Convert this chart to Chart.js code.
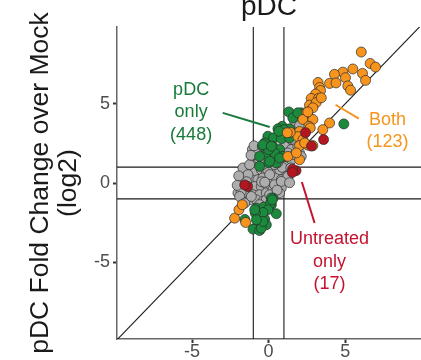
<!DOCTYPE html>
<html>
<head>
<meta charset="utf-8">
<script src="https://cdn.jsdelivr.net/npm/chart.js@4"></script>
<style>
  html, body { margin: 0; padding: 0; background: #fff; }
  #wrap { width: 421px; height: 360px; }
</style>
</head>
<body>
<div id="wrap"><canvas id="chart" width="421" height="360"></canvas></div>
<script>
// log2 fold change over mock: x = untreated, y = pDC
const xRange = [-9.9, 9.95];
const yRange = [-9.85, 9.85];
const xTicks = [-5, 0, 5];
const yTicks = [-5, 0, 5];
const cutoffs = [-1, 1];

// not significant
const grayPts = [
  [-0.70,1.90],[-1.02,1.47],[-0.70,1.27],[-1.52,0.89],[-1.24,0.63],[-0.91,0.73],[-0.48,0.84],[-0.15,0.63],
  [0.18,0.84],[0.50,0.73],[0.83,0.95],[1.15,0.63],[1.26,1.16],[1.04,1.68],[0.93,2.11],[-1.68,0.21],
  [-1.13,0.21],[-0.70,0.21],[-0.37,0.32],[0.07,0.21],[0.50,0.32],[0.83,0.21],[1.26,0.32],[-1.79,-0.22],
  [-1.35,-0.32],[-0.91,-0.22],[-0.48,-0.22],[-0.05,-0.22],[0.39,-0.22],[0.83,-0.32],[-2.00,-0.63],[-1.56,-0.74],
  [-1.02,-0.74],[-0.59,-0.74],[-0.15,-0.63],[0.72,-0.63],[-1.68,-1.16],[-1.24,-1.06],[-0.80,-1.06],[-0.37,-1.16],
  [-1.68,0.95],[-1.35,0.53],[-1.79,-0.53],[-1.89,-0.85],[-1.56,-1.27],[-1.13,-0.85],[-0.80,1.90],[-0.59,1.47],
  [0.72,0.84],[1.04,1.05],[1.26,0.42],[0.28,-0.42],[-0.15,-1.06],[-0.59,-1.37],[0.39,-0.11],[0.83,0.10],
  [-1.06,2.11],[1.58,2.32],[1.48,2.74],[1.15,2.63],[0.89,0.99],[-0.05,0.84],[1.70,3.90],[2.02,3.63],
  [1.81,3.17],[1.65,2.74],[-0.70,1.79],[-0.26,1.65],[1.04,2.32],[1.48,2.11],[2.02,1.90],[1.26,1.90],
  [1.11,3.37],[1.91,2.32],[2.13,1.68],[-0.80,2.00],[0.07,0.53],[-0.39,1.16],[0.39,1.16],[-1.24,1.16],
  [0.07,-0.74],[-1.44,0.08],[-0.46,0.08],[1.37,0.02],[0.59,1.28],[1.50,1.47],[1.70,1.79],[-1.15,1.75],
  [-0.95,2.35],[-1.95,0.45],[-2.05,-0.15],[0.55,-0.45],[1.45,0.95],[-0.25,0.05]
];
// pDC only
const greenPts = [
  [1.32,4.49],[2.13,4.43],[2.56,4.32],[1.58,4.11],[0.89,3.58],[0.61,3.42],[-0.05,2.95],[0.33,2.85],
  [0.89,2.95],[1.37,3.42],[1.00,3.37],[0.83,2.79],[1.37,2.85],[-0.41,2.32],[0.28,2.32],[0.72,2.11],
  [-0.05,1.79],[0.39,1.90],[-0.59,1.68],[0.00,1.27],[0.50,1.27],[-0.59,1.05],[4.91,3.73],[-0.26,2.53],
  [0.00,2.11],[0.93,1.68],[1.91,4.43],[-0.37,2.42],[0.18,2.32],[0.72,1.58],[0.28,-0.95],[-0.80,-1.58],
  [-0.31,-1.52],[0.18,-1.37],[0.50,-1.94],[-0.70,-2.11],[-0.26,-2.28],[-0.52,-2.53],[-0.15,-2.64],[-1.02,-2.91],
  [-0.59,-3.00],[0.13,-1.27],[-0.05,-1.69],[-0.37,-1.86],[-0.87,-1.90],[0.18,-0.95],[-0.48,-2.85],[-0.37,-2.43],
  [-1.55,-2.30],[-0.80,-2.32],[-0.91,-1.69],[0.24,-1.06],[0.07,1.37],[0.67,3.27]
];
// both
const orangePts = [
  [6.05,8.27],[6.63,7.55],[6.98,7.32],[5.50,7.20],[4.85,7.00],[4.30,6.86],[3.98,6.29],[4.40,6.32],
  [5.02,6.65],[6.13,6.92],[6.33,6.48],[5.17,6.13],[5.35,5.86],[3.23,6.35],[3.33,6.03],[3.39,5.84],
  [3.07,5.62],[2.78,5.34],[3.26,5.34],[2.67,4.92],[3.11,5.08],[2.89,4.75],[2.48,4.45],[2.24,4.01],
  [2.89,4.01],[2.63,3.58],[3.98,3.79],[3.54,3.37],[2.02,3.25],[1.91,2.93],[2.24,2.74],[2.56,2.39],
  [2.02,2.36],[2.89,2.36],[1.41,3.20],[1.26,1.68],[2.02,1.47],[1.81,1.90],[2.72,3.48],[3.44,5.38],
  [2.56,4.49],[-2.22,-2.22],[-1.94,-1.69],[-1.72,-1.37],[-1.50,-2.49],[1.22,3.17],[2.35,2.53]
];
// untreated only
const redPts = [
  [3.59,2.74],[2.41,3.18],[2.80,2.33],[1.79,0.78],[1.56,0.87],[-1.37,-0.22],[-1.56,-0.12],[1.55,0.67]
];

const notes = [
  { lines: ["pDC", "only", "(448)"], color: "#17793a", x: -5.06, y: 4.48, from: [-3.0, 4.43], to: [0.07, 3.54] },
  { lines: ["Both", "(123)"], color: "#f7941d", x: 7.76, y: 3.28, from: [4.37, 4.94], to: [5.89, 4.07] },
  { lines: ["Untreated", "only", "(17)"], color: "#c4122f", x: 3.98, y: -4.98, from: [2.17, 0.06], to: [3.0, -2.53] }
];

const FONT = "'Liberation Sans', Arial, Helvetica, sans-serif";

const toXY = pts => pts.map(([x, y]) => ({ x, y }));

function dots(pts, fill, order) {
  return {
    data: toXY(pts), backgroundColor: fill, borderColor: "#2b2b2b", borderWidth: 0.7,
    pointRadius: 5, pointHoverRadius: 5, order
  };
}
function refLine(pts) {
  return {
    data: toXY(pts), showLine: true, borderColor: "#1a1a1a", borderWidth: 1.1,
    pointRadius: 0, fill: false, order: 5
  };
}

const datasets = [
  dots(redPts, "#b3161f", 1),
  dots(orangePts, "#f7941d", 2),
  dots(greenPts, "#1b8a3c", 3),
  dots(grayPts, "#adadad", 4),
  refLine([[xRange[0], xRange[0]], [xRange[1], xRange[1]]])
];
cutoffs.forEach(c => {
  datasets.push(refLine([[c, yRange[0]], [c, yRange[1]]]));
  datasets.push(refLine([[xRange[0], c], [xRange[1], c]]));
});

const notesPlugin = {
  id: "notes",
  afterDatasetsDraw(chart) {
    const { ctx, scales: { x, y } } = chart;
    const lh = 22.5;
    ctx.save();
    notes.forEach(n => {
      ctx.strokeStyle = n.color;
      ctx.lineWidth = 2;
      ctx.beginPath();
      ctx.moveTo(x.getPixelForValue(n.from[0]), y.getPixelForValue(n.from[1]));
      ctx.lineTo(x.getPixelForValue(n.to[0]), y.getPixelForValue(n.to[1]));
      ctx.stroke();
      ctx.fillStyle = n.color;
      ctx.font = "18px " + FONT;
      ctx.textAlign = "center";
      ctx.textBaseline = "middle";
      const cx = x.getPixelForValue(n.x);
      const top = y.getPixelForValue(n.y) - (n.lines.length - 1) * lh / 2;
      n.lines.forEach((t, i) => ctx.fillText(t, cx, top + i * lh));
    });
    ctx.restore();
  }
};

const axisTicks = { color: "#4d4d4d", padding: 0, font: { family: FONT, size: 18, lineHeight: 1 } };
const axisGrid = { drawOnChartArea: false, drawTicks: true, tickLength: 4, tickWidth: 2, tickColor: "#333" };
const axisBorder = { color: "#666", width: 1.5 };

new Chart(document.getElementById("chart"), {
  type: "scatter",
  data: { datasets },
  options: {
    responsive: false,
    animation: false,
    devicePixelRatio: 1,
    layout: { padding: 0, autoPadding: false },
    plugins: {
      legend: { display: false },
      tooltip: { enabled: false },
      title: {
        display: true, text: "pDC", fullSize: false, color: "#1a1a1a",
        font: { family: FONT, size: 28, weight: "normal", lineHeight: 0.5 },
        padding: { top: 0, bottom: 13 }
      }
    },
    scales: {
      x: {
        type: "linear", min: xRange[0], max: xRange[1],
        afterBuildTicks: s => { s.ticks = xTicks.map(v => ({ value: v })); },
        afterFit: s => { s.height = 21; },
        grid: axisGrid, border: axisBorder, ticks: axisTicks
      },
      y: {
        type: "linear", min: yRange[0], max: yRange[1],
        afterBuildTicks: s => { s.ticks = yTicks.map(v => ({ value: v })); },
        afterFit: s => { s.width = 117; },
        grid: axisGrid, border: axisBorder,
        ticks: { ...axisTicks, padding: 3 },
        title: {
          display: true, text: ["pDC Fold Change over Mock", "(log2)"], color: "#1a1a1a",
          font: { family: FONT, size: 26.5, lineHeight: 1.08 },
          padding: { top: 26, bottom: 0 }
        }
      }
    }
  },
  plugins: [notesPlugin]
});
</script>
</body>
</html>
